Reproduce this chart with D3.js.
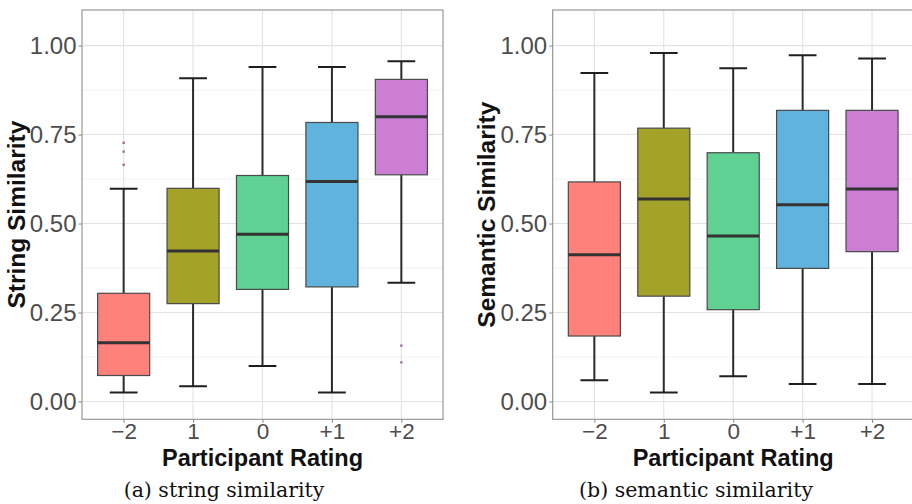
<!DOCTYPE html>
<html>
<head>
<meta charset="utf-8">
<script src="https://cdn.jsdelivr.net/npm/d3@7/dist/d3.min.js"></script>
<style>
  html, body { margin: 0; padding: 0; background: #ffffff; }
  svg { display: block; }
</style>
</head>
<body>
<svg id="chart" width="912" height="504"></svg>
<script>
// Participant rating groups (x axis)
const categories = ["\u22122", "1", "0", "+1", "+2"];
const yTicks = [0, 0.25, 0.5, 0.75, 1.0];
const yMinorTicks = [0.125, 0.375, 0.625, 0.875];

// String similarity: five-number summaries per rating
const stringLow    = [0.025, 0.043, 0.100, 0.025, 0.334];
const stringQ1     = [0.073, 0.275, 0.315, 0.322, 0.637];
const stringMedian = [0.165, 0.423, 0.470, 0.618, 0.800];
const stringQ3     = [0.304, 0.599, 0.635, 0.784, 0.905];
const stringHigh   = [0.598, 0.908, 0.940, 0.940, 0.956];
const stringOutlierGroup = ["\u22122", "\u22122", "\u22122", "+2", "+2"];
const stringOutlierValue = [0.727, 0.702, 0.665, 0.157, 0.110];

// Semantic similarity: five-number summaries per rating
const semanticLow    = [0.060, 0.025, 0.071, 0.049, 0.049];
const semanticQ1     = [0.184, 0.296, 0.258, 0.374, 0.421];
const semanticMedian = [0.412, 0.569, 0.465, 0.553, 0.597];
const semanticQ3     = [0.617, 0.768, 0.699, 0.818, 0.818];
const semanticHigh   = [0.923, 0.979, 0.936, 0.973, 0.964];
const semanticOutlierGroup = [];
const semanticOutlierValue = [];

// Group fill colours
const fills = ["#ff817c", "#a5a22a", "#5fd193", "#5fb3dd", "#cb7ed4"];
const outlierColors = ["#a97272", "#a97272", "#a97272", "#9c70a8", "#9c70a8"];

const sans = "'Liberation Sans', Arial, sans-serif";
const svg = d3.select("#chart");

function drawPanel(cfg) {
  const left = cfg.left, right = cfg.left + 361, top = 10, bottom = 419.3;
  const x = d3.scalePoint().domain(categories).range([left, right]).padding(0.6);
  const y = d3.scaleLinear().domain([-0.05, 1.10]).range([bottom, top]);
  const step = x.step();
  const g = svg.append("g");

  const clipId = "clip" + cfg.id;
  svg.append("clipPath").attr("id", clipId)
    .append("rect").attr("x", left).attr("y", top).attr("width", right - left).attr("height", bottom - top);

  // background grid
  const grid = g.append("g").attr("clip-path", `url(#${clipId})`);
  grid.selectAll(".minor").data(yMinorTicks).join("line")
    .attr("x1", left).attr("x2", right)
    .attr("y1", d => y(d)).attr("y2", d => y(d))
    .attr("stroke", "#ededed").attr("stroke-width", 0.8);
  grid.selectAll(".major").data(yTicks).join("line")
    .attr("x1", left).attr("x2", right)
    .attr("y1", d => y(d)).attr("y2", d => y(d))
    .attr("stroke", "#e2e2e2").attr("stroke-width", 1.1);
  grid.selectAll(".vmajor").data(categories).join("line")
    .attr("x1", d => x(d)).attr("x2", d => x(d))
    .attr("y1", top).attr("y2", bottom)
    .attr("stroke", "#e2e2e2").attr("stroke-width", 1.1);

  const rows = categories.map((c, i) => ({
    c, i, low: cfg.low[i], q1: cfg.q1[i], med: cfg.median[i], q3: cfg.q3[i], high: cfg.high[i]
  }));
  const boxW = step * 0.75, capW = step * 0.4;
  const marks = g.append("g").attr("clip-path", `url(#${clipId})`);

  // whiskers and caps
  marks.selectAll(".whisk").data(rows).join("path")
    .attr("d", d => `M${x(d.c)},${y(d.q3)}V${y(d.high)}M${x(d.c)},${y(d.q1)}V${y(d.low)}`)
    .attr("stroke", "#2b2b2b").attr("stroke-width", 2).attr("fill", "none");
  marks.selectAll(".cap").data(rows).join("path")
    .attr("d", d => `M${x(d.c) - capW / 2},${y(d.high)}H${x(d.c) + capW / 2}M${x(d.c) - capW / 2},${y(d.low)}H${x(d.c) + capW / 2}`)
    .attr("stroke", "#1f1f1f").attr("stroke-width", 2).attr("fill", "none");
  // boxes
  marks.selectAll(".box").data(rows).join("rect")
    .attr("x", d => x(d.c) - boxW / 2).attr("width", boxW)
    .attr("y", d => y(d.q3)).attr("height", d => y(d.q1) - y(d.q3))
    .attr("fill", d => fills[d.i]).attr("stroke", "#4a4a4a").attr("stroke-width", 1.2);
  // medians
  marks.selectAll(".med").data(rows).join("line")
    .attr("x1", d => x(d.c) - boxW / 2).attr("x2", d => x(d.c) + boxW / 2)
    .attr("y1", d => y(d.med)).attr("y2", d => y(d.med))
    .attr("stroke", "#333333").attr("stroke-width", 3);
  // outliers
  marks.selectAll(".out").data(cfg.outGroup.map((c, k) => ({ c, v: cfg.outValue[k], k }))).join("rect")
    .attr("x", d => x(d.c) - 1.2).attr("y", d => y(d.v) - 1.2)
    .attr("width", 2.4).attr("height", 2.4)
    .attr("fill", d => cfg.outColors[d.k]);

  // panel border
  g.append("rect").attr("x", left).attr("y", top).attr("width", right - left).attr("height", bottom - top)
    .attr("fill", "none").attr("stroke", "#8f8f8f").attr("stroke-width", 1.1);

  // y axis
  const yAxis = d3.axisLeft(y).tickValues(yTicks).tickFormat(d3.format(".2f")).tickSize(3.5).tickPadding(2);
  const ya = g.append("g").attr("transform", `translate(${left},0)`).call(yAxis);
  ya.select(".domain").remove();
  ya.selectAll(".tick line").attr("stroke", "#8f8f8f").attr("stroke-width", 1.1);
  ya.selectAll(".tick text").attr("fill", "#4d4d4d")
    .style("font-family", sans).style("font-size", "24px");

  // x axis
  const xAxis = d3.axisBottom(x).tickSize(3.5).tickPadding(0.7);
  const xa = g.append("g").attr("transform", `translate(0,${bottom})`).call(xAxis);
  xa.select(".domain").remove();
  xa.selectAll(".tick line").attr("stroke", "#8f8f8f").attr("stroke-width", 1.1);
  xa.selectAll(".tick text").attr("fill", "#4d4d4d")
    .style("font-family", sans).style("font-size", "22.5px");

  // axis titles
  g.append("text").attr("x", (left + right) / 2).attr("y", 466)
    .attr("text-anchor", "middle").attr("fill", "#111")
    .style("font-family", sans).style("font-size", "23.5px").style("font-weight", "bold")
    .text("Participant Rating");
  g.append("text").attr("transform", `translate(${cfg.yTitleX},${(top + bottom) / 2}) rotate(-90)`)
    .attr("text-anchor", "middle").attr("fill", "#111")
    .style("font-family", sans).style("font-size", "24.5px").style("font-weight", "bold")
    .text(cfg.yTitle);

  // sub-figure caption
  g.append("text").attr("x", cfg.captionX).attr("y", 497)
    .attr("text-anchor", "middle").attr("fill", "#111")
    .style("font-family", "'DejaVu Serif', serif").style("font-size", "20.5px")
    .text(cfg.caption);
}

drawPanel({
  id: "a", left: 82, yTitle: "String Similarity", yTitleX: 25, captionX: 224,
  caption: "(a) string similarity",
  low: stringLow, q1: stringQ1, median: stringMedian, q3: stringQ3, high: stringHigh,
  outGroup: stringOutlierGroup, outValue: stringOutlierValue, outColors: outlierColors
});
drawPanel({
  id: "b", left: 552.7, yTitle: "Semantic Similarity", yTitleX: 495, captionX: 696,
  caption: "(b) semantic similarity",
  low: semanticLow, q1: semanticQ1, median: semanticMedian, q3: semanticQ3, high: semanticHigh,
  outGroup: semanticOutlierGroup, outValue: semanticOutlierValue, outColors: []
});
</script>
</body>
</html>
